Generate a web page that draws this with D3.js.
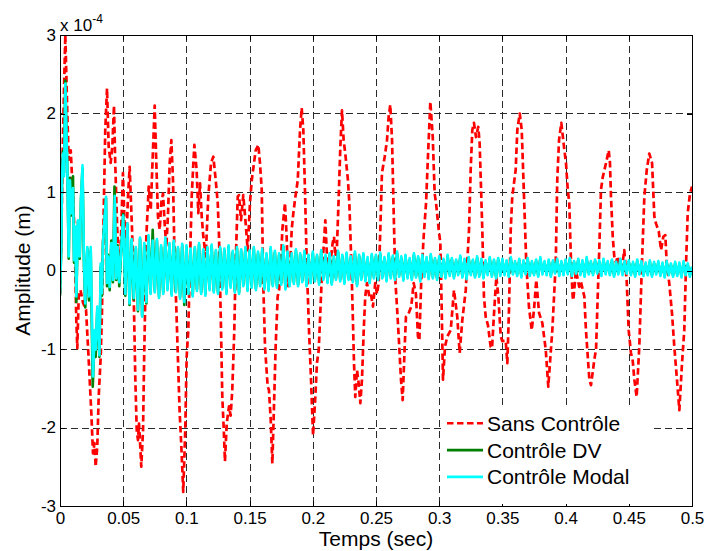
<!DOCTYPE html>
<html><head><meta charset="utf-8">
<script src="https://cdn.jsdelivr.net/npm/d3@7"></script>
<style>
body{margin:0;background:#fff}
svg{display:block;background:#fff}
</style>
</head><body>
<svg id="chart" width="706" height="551"></svg>
<script>
// ---------- data ----------
const xTicks = [0,0.05,0.1,0.15,0.2,0.25,0.3,0.35,0.4,0.45,0.5];
const xTickLabels = ["0","0.05","0.1","0.15","0.2","0.25","0.3","0.35","0.4","0.45","0.5"];
const yTicks = [-3,-2,-1,0,1,2,3];
const yTickLabels = ["-3","-2","-1","0","1","2","3"];
const seriesNames = ["Sans Contrôle","Contrôle DV","Contrôle Modal"];
const seriesColors = ["#ff0000","#008000","#00ffff"];

// Sans Contrôle: [time (s), amplitude (x1e-4 m)]
const sansPts = [
[0,-0.3],[0.0012,0.6],[0.0024,1.75],[0.0033,2.4],[0.0042,3.0],[0.0058,2.0],[0.0069,1.41],[0.0085,1.53],[0.0103,0.94],[0.0116,0.43],
[0.0129,-0.63],[0.0137,-0.99],[0.0148,-0.33],[0.0162,-0.25],[0.0182,-0.41],[0.0206,-0.5],[0.0229,-1.2],[0.0248,-1.82],[0.0261,-2.33],[0.0273,-2.2],
[0.0282,-2.5],[0.0295,-2.24],[0.0306,-1.61],[0.0322,-1.1],[0.0332,-0.54],[0.0348,0.94],[0.0358,1.79],[0.0372,2.32],[0.0385,1.58],[0.0401,1.37],
[0.0414,1.58],[0.0427,2.1],[0.0437,1.37],[0.0453,0.52],[0.0464,0.18],[0.0480,0.3],[0.0498,1.24],[0.0512,0.52],[0.0525,0.4],[0.0538,0.94],
[0.0551,1.32],[0.0570,0.52],[0.0585,-0.46],[0.0596,-1.39],[0.0607,-2.03],[0.0617,-2.16],[0.0625,-1.95],[0.0635,-2.24],[0.0643,-2.5],[0.0657,-2.03],
[0.0665,-1.18],[0.0675,-0.33],[0.0683,0.43],[0.0702,1.07],[0.0718,0.77],[0.0730,1.3],[0.0749,2.1],[0.0762,1.37],[0.0775,0.69],[0.0789,0.52],
[0.0801,0.86],[0.0815,0.98],[0.0828,0.6],[0.0841,0.3],[0.0854,0.7],[0.0868,1.37],[0.0881,1.66],[0.0894,1.15],[0.0907,0.09],[0.0920,-0.46],
[0.0934,-1.18],[0.0947,-1.82],[0.0960,-2.24],[0.0975,-2.82],[0.0991,-2.03],[0.1002,-1.1],[0.1015,-0.76],[0.1028,0.09],[0.1042,0.94],[0.1055,1.37],
[0.1063,1.6],[0.1081,1.28],[0.1094,0.73],[0.1108,1.11],[0.1121,0.69],[0.1134,0.43],[0.1153,0.18],[0.1173,0.94],[0.1195,1.37],[0.1213,1.45],
[0.1232,1.15],[0.1248,0.86],[0.1258,0.43],[0.1274,-0.76],[0.1284,-1.61],[0.1295,-2.0],[0.1305,-2.43],[0.1319,-1.95],[0.1337,-1.73],[0.1350,-1.85],
[0.1363,-1.52],[0.1379,-0.76],[0.1390,0.09],[0.1406,0.94],[0.1416,0.96],[0.1432,0.64],[0.1450,0.96],[0.1469,0.6],[0.1485,0.26],[0.1503,0.86],
[0.1517,1.15],[0.1548,1.53],[0.1569,1.6],[0.1582,1.37],[0.1596,1.03],[0.1608,-0.16],[0.1622,-0.97],[0.1643,-1.48],[0.1653,-1.52],[0.1667,-1.9],
[0.1680,-2.46],[0.1695,-1.61],[0.1706,-0.97],[0.1722,-0.33],[0.1733,-0.25],[0.1748,0.09],[0.1759,0.52],[0.1780,0.86],[0.1793,0.43],[0.1806,-0.2],
[0.1820,0.0],[0.1833,0.52],[0.1846,0.73],[0.1859,0.9],[0.1881,1.15],[0.1899,1.79],[0.1912,2.07],[0.1925,1.79],[0.1938,1.03],[0.1952,0.09],
[0.1970,-0.76],[0.1986,-1.39],[0.2002,-2.1],[0.2020,-1.61],[0.2033,-1.18],[0.2047,-1.01],[0.2059,-0.55],[0.2073,0.0],[0.2086,0.3],[0.2099,0.64],
[0.2112,0.18],[0.2126,-0.08],[0.2140,0.1],[0.2157,0.35],[0.2168,0.43],[0.2178,0.18],[0.2191,0.3],[0.2205,0.94],[0.2218,1.58],[0.2231,2.04],
[0.2244,1.66],[0.2257,1.49],[0.2278,1.15],[0.2289,0.86],[0.2305,0.09],[0.2316,-0.55],[0.2326,-1.18],[0.2336,-1.61],[0.2350,-1.27],[0.2363,-1.44],
[0.2376,-1.69],[0.2389,-1.39],[0.2403,-0.76],[0.2415,-0.33],[0.2429,-0.16],[0.2447,-0.33],[0.2460,-0.3],[0.2476,-0.46],[0.2494,-0.16],[0.2508,-0.3],
[0.2521,-0.16],[0.2534,0.52],[0.2547,1.24],[0.2569,1.45],[0.2587,1.66],[0.2600,1.96],[0.2613,2.11],[0.2627,1.66],[0.2640,0.73],[0.2653,-0.12],
[0.2666,-0.46],[0.2684,-0.97],[0.2698,-1.4],[0.2711,-1.65],[0.2727,-0.97],[0.2737,-0.59],[0.2757,-0.55],[0.2779,-0.46],[0.2798,-0.16],[0.2816,-0.3],
[0.2832,-0.84],[0.2843,-0.89],[0.2858,-0.12],[0.2877,0.43],[0.2896,0.86],[0.2911,1.45],[0.2930,2.15],[0.2949,1.7],[0.2964,0.98],[0.2975,0.86],
[0.2996,0.52],[0.3009,0.35],[0.3020,-0.5],[0.3030,-1.39],[0.3046,-0.97],[0.3064,-0.84],[0.3091,-0.76],[0.3117,-0.25],[0.3143,-0.59],[0.3162,-1.05],
[0.3183,-0.63],[0.3210,-0.25],[0.3236,0.52],[0.3249,1.28],[0.3262,1.79],[0.3275,1.88],[0.3291,1.7],[0.3309,1.83],[0.3320,1.62],[0.3341,0.52],
[0.3354,-0.33],[0.3368,-0.59],[0.3386,-0.7],[0.3407,-0.97],[0.3418,-0.99],[0.3434,-0.54],[0.3452,-0.08],[0.3468,-0.33],[0.3487,-0.84],[0.3499,-0.9],
[0.3526,-0.89],[0.3539,-1.18],[0.3552,-0.5],[0.3566,0.52],[0.3578,0.94],[0.3605,1.28],[0.3618,1.79],[0.3637,2.0],[0.3653,1.79],[0.3671,0.94],
[0.3689,0.09],[0.3710,-0.46],[0.3732,-0.76],[0.3750,-0.5],[0.3768,-0.12],[0.3790,-0.54],[0.3816,-0.67],[0.3843,-1.01],[0.3863,-1.48],[0.3895,-0.76],
[0.3922,0.09],[0.3934,1.15],[0.3948,1.66],[0.3966,1.88],[0.3987,1.58],[0.4003,1.37],[0.4017,1.03],[0.4029,0.86],[0.4043,0.09],[0.4056,-0.33],
[0.4061,-0.38],[0.4082,0.0],[0.4108,-0.21],[0.4122,-0.15],[0.4148,-0.33],[0.4161,-0.76],[0.4188,-1.39],[0.4201,-1.46],[0.4227,-1.14],[0.4241,-1.0],
[0.4254,-0.33],[0.4267,0.3],[0.4280,1.03],[0.4294,1.19],[0.4320,1.37],[0.4341,1.53],[0.4351,1.37],[0.4359,0.94],[0.4373,0.43],[0.4385,0.18],
[0.4399,0.1],[0.4412,0.18],[0.4425,0.05],[0.4446,0.03],[0.4464,0.26],[0.4483,-0.12],[0.4499,-0.76],[0.4517,-1.05],[0.4531,-1.15],[0.4544,-1.39],
[0.4562,-1.61],[0.4583,-0.97],[0.4604,0.09],[0.4623,0.94],[0.4642,1.28],[0.4662,1.49],[0.4684,1.37],[0.4702,0.69],[0.4715,0.6],[0.4737,0.5],
[0.4755,0.26],[0.4773,0.43],[0.4789,0.45],[0.4800,0.09],[0.4820,-0.16],[0.4842,-0.55],[0.4860,-0.97],[0.4881,-1.39],[0.4900,-1.78],[0.4921,-1.18],
[0.4939,-0.76],[0.4953,0.09],[0.4966,0.73],[0.4984,0.98],[0.5,1.07]
];

// Contrôle DV: transient part [time, amplitude]
const dvEarlyPts = [
[0,-0.32],[0.0010,0.32],[0.0016,1.2],[0.0024,1.52],[0.0032,1.25],[0.0042,2.42],[0.0058,1.3],[0.0069,0.15],[0.0079,1.18],[0.0089,0.7],
[0.0103,1.2],[0.0111,0.1],[0.0121,0.55],[0.0129,-0.4],[0.0142,0.62],[0.0156,0.15],[0.0166,0.9],[0.0178,1.3],[0.0190,0.05],[0.0200,-0.47],
[0.0216,0.28],[0.0229,-0.38],[0.0243,0.25],[0.0259,-1.48],[0.0275,-0.8],[0.0282,-1.1],[0.0295,-0.5],[0.0312,-1.1],[0.0322,0.05],[0.0332,-0.32],
[0.0340,0.35],[0.0364,0.92],[0.0372,-0.2],[0.0380,0.2],[0.0393,-0.25],[0.0406,0.38],[0.0419,-0.15],[0.0431,1.07],[0.0445,-0.12],[0.0456,0.32],
[0.0469,-0.2]
];
// Contrôle Modal: transient part [time, amplitude]
const modalEarlyPts = [
[0,-0.3],[0.0010,0.3],[0.0016,1.15],[0.0024,1.49],[0.0032,1.2],[0.0042,2.38],[0.0058,1.28],[0.0069,0.18],[0.0079,1.15],[0.0089,0.73],
[0.0103,1.05],[0.0111,0.13],[0.0121,0.56],[0.0129,-0.33],[0.0142,0.64],[0.0156,0.18],[0.0166,0.9],[0.0178,1.34],[0.0190,0.09],[0.0200,-0.42],
[0.0216,0.3],[0.0229,-0.33],[0.0243,0.3],[0.0261,-1.35],[0.0275,-0.76],[0.0282,-1.01],[0.0295,-0.46],[0.0312,-1.08],[0.0322,0.09],[0.0332,-0.29],
[0.0340,0.35],[0.0364,0.94],[0.0372,-0.16],[0.0380,0.18],[0.0393,-0.21],[0.0406,0.35],[0.0419,-0.12],[0.0433,0.95],[0.0445,-0.1],[0.0456,0.3],
[0.0469,-0.15]
];

// residual vibration, sampled every 1/600 s from t = 0.05 s
const lateStart = 0.05;
const lateStep = 1/600;
const dvLateV = [
0.72,-0.32,0.58,-0.44,0.38,-0.37,0.28,-0.52,0.4,-0.58,0.33,-0.42,0.43,-0.28,0.52,-0.26,0.38,-0.33,0.3,-0.28,0.4,-0.23,0.33,-0.3,0.36,-0.26,0.28,-0.34,0.32,-0.44,
0.3,-0.28,0.26,-0.31,0.28,-0.24,0.33,-0.28,0.25,-0.3,0.28,-0.23,0.31,-0.26,0.24,-0.28,0.28,-0.22,0.26,-0.28,0.3,-0.2,0.23,-0.26,0.28,-0.28,0.25,-0.18,0.28,-0.24,
0.24,-0.2,0.28,-0.23,0.22,-0.18,0.26,-0.22,0.2,-0.24,0.28,-0.18,0.23,-0.2,0.2,-0.16,0.3,-0.22,0.22,-0.18,0.2,-0.15,0.25,-0.18,0.2,-0.13,0.23,-0.18,0.18,-0.14,
0.22,-0.12,0.18,-0.16,0.24,-0.1,0.18,-0.14,0.2,-0.16,0.16,-0.1,0.23,-0.12,0.18,-0.15,0.21,-0.1,0.16,-0.13,0.22,-0.18,0.18,-0.1,0.2,-0.12,0.15,-0.14,0.19,-0.08,
0.18,-0.1,0.21,-0.08,0.15,-0.12,0.2,-0.08,0.17,-0.1,0.22,-0.06,0.16,-0.11,0.18,-0.08,0.14,-0.1,0.2,-0.07,0.16,-0.12,0.18,-0.06,0.15,-0.09,0.19,-0.08,0.14,-0.1,
0.16,-0.06,0.13,-0.08,0.18,-0.05,0.14,-0.08,0.12,-0.04,0.17,-0.07,0.13,-0.09,0.15,-0.04,0.12,-0.07,0.16,-0.06,0.13,-0.08,0.11,-0.04,0.15,-0.06,0.12,-0.08,0.14,-0.05,
0.13,-0.04,0.11,-0.06,0.15,-0.03,0.1,-0.05,0.13,-0.07,0.11,-0.03,0.14,-0.05,0.1,-0.04,0.12,-0.06,0.15,-0.03,0.1,-0.04,0.12,-0.06,0.11,-0.02,0.13,-0.05,0.1,-0.04,
0.12,-0.03,0.14,-0.05,0.1,-0.02,0.13,-0.04,0.11,-0.06,0.15,-0.03,0.1,-0.04,0.12,-0.02,0.11,-0.05,0.13,-0.03,0.1,-0.04,0.12,-0.06,0.09,-0.03,0.13,-0.04,0.1,-0.02,
0.11,-0.04,0.09,-0.06,0.12,-0.03,0.1,-0.05,0.08,-0.04,0.11,-0.06,0.09,-0.03,0.1,-0.05,0.08,-0.07,0.1,-0.04,0.07,-0.06,0.09,-0.05,0.08,-0.07,0.1,-0.04,0.07,-0.06,0.04
];
const modalLateV = [
0.7,-0.3,0.6,-0.42,0.4,-0.35,0.3,-0.5,0.42,-0.59,0.35,-0.4,0.45,-0.3,0.38,-0.28,0.4,-0.35,0.32,-0.3,0.42,-0.25,0.35,-0.32,0.38,-0.28,0.3,-0.36,0.34,-0.4,
0.32,-0.3,0.28,-0.33,0.3,-0.26,0.35,-0.3,0.27,-0.32,0.3,-0.25,0.33,-0.28,0.26,-0.3,0.3,-0.24,0.28,-0.3,0.32,-0.22,0.25,-0.28,0.3,-0.3,0.27,-0.2,0.3,-0.26,
0.26,-0.22,0.3,-0.25,0.24,-0.2,0.28,-0.24,0.22,-0.26,0.3,-0.2,0.25,-0.22,0.22,-0.18,0.32,-0.24,0.24,-0.2,0.22,-0.17,0.27,-0.2,0.22,-0.15,0.25,-0.2,0.2,-0.16,
0.24,-0.14,0.2,-0.18,0.26,-0.12,0.2,-0.16,0.22,-0.18,0.18,-0.12,0.25,-0.14,0.2,-0.17,0.23,-0.12,0.18,-0.15,0.24,-0.2,0.2,-0.12,0.22,-0.14,0.17,-0.16,0.21,-0.1,
0.2,-0.12,0.23,-0.1,0.17,-0.14,0.22,-0.1,0.19,-0.12,0.24,-0.08,0.18,-0.13,0.2,-0.1,0.16,-0.12,0.22,-0.09,0.18,-0.14,0.2,-0.08,0.17,-0.11,0.21,-0.1,0.16,-0.12,
0.18,-0.08,0.15,-0.1,0.2,-0.07,0.16,-0.1,0.14,-0.06,0.19,-0.09,0.15,-0.11,0.17,-0.06,0.14,-0.09,0.18,-0.08,0.15,-0.1,0.13,-0.06,0.17,-0.08,0.14,-0.1,0.16,-0.07,
0.15,-0.06,0.13,-0.08,0.17,-0.05,0.12,-0.07,0.15,-0.09,0.13,-0.05,0.16,-0.07,0.12,-0.06,0.14,-0.08,0.17,-0.05,0.12,-0.06,0.14,-0.08,0.13,-0.04,0.15,-0.07,0.12,-0.06,
0.14,-0.05,0.16,-0.07,0.12,-0.04,0.15,-0.06,0.13,-0.08,0.17,-0.05,0.12,-0.06,0.14,-0.04,0.13,-0.07,0.15,-0.05,0.12,-0.06,0.14,-0.08,0.11,-0.05,0.15,-0.06,0.12,-0.04,
0.13,-0.06,0.11,-0.08,0.14,-0.05,0.12,-0.07,0.1,-0.06,0.13,-0.08,0.11,-0.05,0.12,-0.07,0.1,-0.09,0.12,-0.06,0.09,-0.08,0.11,-0.07,0.1,-0.09,0.12,-0.06,0.09,-0.08,0.05
];

// ---------- layout ----------
const W = 706, H = 551;
const L = 60, R = 692, T = 35, B = 506;
const FONT = "Arial, 'Liberation Sans', Helvetica, sans-serif";

const svg = d3.select("#chart");
const x = d3.scaleLinear().domain([0,0.5]).range([L,R]);
const y = d3.scaleLinear().domain([-3,3]).range([B,T]);

svg.append("rect").attr("width",W).attr("height",H).attr("fill","#fff");

svg.append("defs").append("clipPath").attr("id","plotclip")
  .append("rect").attr("x",L).attr("y",T).attr("width",R-L).attr("height",B-T);

// grid
const grid = svg.append("g").attr("stroke","#2a2a2a").attr("stroke-width",1)
  .attr("stroke-dasharray","7,4").attr("shape-rendering","crispEdges");
grid.selectAll("line.vx").data(xTicks.slice(1,-1)).join("line")
  .attr("x1",d=>Math.round(x(d))+0.5).attr("x2",d=>Math.round(x(d))+0.5)
  .attr("y1",T).attr("y2",B);
grid.selectAll("line.hy").data(yTicks.slice(1,-1)).join("line")
  .attr("y1",d=>Math.round(y(d))+0.5).attr("y2",d=>Math.round(y(d))+0.5)
  .attr("x1",L).attr("x2",R);

// series
const line = d3.line().x(d=>x(d[0])).y(d=>y(d[1]));
const lateTimes = d3.range(modalLateV.length).map(i=>lateStart+i*lateStep);
const dvPts = dvEarlyPts.concat(dvLateV.map((v,i)=>[lateTimes[i],v]));
const modalPts = modalEarlyPts.concat(modalLateV.map((v,i)=>[lateTimes[i],v]));

const plot = svg.append("g").attr("clip-path","url(#plotclip)");
plot.append("path").datum(sansPts).attr("d",line)
  .attr("fill","none").attr("stroke",seriesColors[0]).attr("stroke-width",2.7)
  .attr("stroke-dasharray","6.5,3.5").attr("stroke-linejoin","round");
plot.append("path").datum(dvPts).attr("d",line)
  .attr("fill","none").attr("stroke",seriesColors[1]).attr("stroke-width",2.6)
  .attr("stroke-linejoin","round");
plot.append("path").datum(modalPts).attr("d",line)
  .attr("fill","none").attr("stroke",seriesColors[2]).attr("stroke-width",2.6)
  .attr("stroke-linejoin","round");

// axes
function styleAxis(g){
  g.attr("font-family",FONT).attr("font-size",17);
  g.selectAll("path.domain").attr("stroke","#000").attr("stroke-width",1).attr("shape-rendering","crispEdges");
  g.selectAll(".tick line").attr("stroke","#000").attr("shape-rendering","crispEdges");
  g.selectAll(".tick text").attr("fill","#000");
}
svg.append("g").attr("transform",`translate(0,${B})`)
  .call(d3.axisBottom(x).tickValues(xTicks).tickFormat((d,i)=>xTickLabels[i]).tickSize(-5).tickSizeOuter(0).tickPadding(6))
  .call(styleAxis);
svg.append("g").attr("transform",`translate(0,${T})`)
  .call(d3.axisTop(x).tickValues(xTicks).tickFormat("").tickSize(-5).tickSizeOuter(0))
  .call(styleAxis);
svg.append("g").attr("transform",`translate(${L},0)`)
  .call(d3.axisLeft(y).tickValues(yTicks).tickFormat((d,i)=>yTickLabels[i]).tickSize(-5).tickSizeOuter(0).tickPadding(4))
  .call(styleAxis);
svg.append("g").attr("transform",`translate(${R},0)`)
  .call(d3.axisRight(y).tickValues(yTicks).tickFormat("").tickSize(-5).tickSizeOuter(0))
  .call(styleAxis);

// exponent
const ex = svg.append("text").attr("x",L).attr("y",31).attr("font-family",FONT).attr("font-size",17).attr("fill","#000");
ex.append("tspan").text("x 10");
ex.append("tspan").attr("font-size",12).attr("dy",-8).text("-4");

// axis titles
svg.append("text").attr("x",(L+R)/2).attr("y",546).attr("text-anchor","middle")
  .attr("font-family",FONT).attr("font-size",21).attr("fill","#000").text("Temps (sec)");
svg.append("text").attr("transform",`translate(30,${(T+B)/2}) rotate(-90)`).attr("text-anchor","middle")
  .attr("font-family",FONT).attr("font-size",21).attr("fill","#000").text("Amplitude (m)");

// legend
const lg = svg.append("g");
lg.append("rect").attr("x",441).attr("y",406).attr("width",209).attr("height",98).attr("fill","#fff");
const dashes = ["6.5,3.5",null,null];
seriesNames.forEach((name,i)=>{
  const cy = 423.3 + i*26.8;
  const ln = lg.append("line").attr("x1",447).attr("x2",483).attr("y1",cy).attr("y2",cy)
    .attr("stroke",seriesColors[i]).attr("stroke-width",2.6);
  if(dashes[i]) ln.attr("stroke-dasharray",dashes[i]);
  lg.append("text").attr("x",487).attr("y",cy+7.4).attr("font-family",FONT).attr("font-size",21)
    .attr("fill","#000").text(name);
});
</script>
</body></html>
